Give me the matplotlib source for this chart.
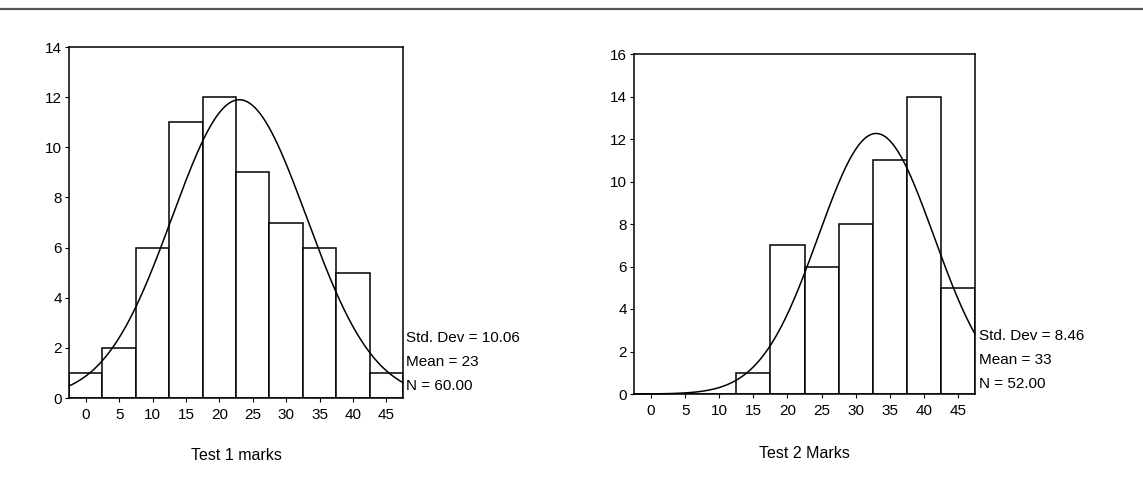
import numpy as np
import matplotlib
matplotlib.use("Agg")
import matplotlib.pyplot as plt
from matplotlib.lines import Line2D

plt.rcParams['font.family'] = ['Liberation Sans', 'DejaVu Sans']

# Histogram data: bin centres (width 5) and counts per bin
bin_centers = [0, 5, 10, 15, 20, 25, 30, 35, 40, 45]
test1_counts = [1, 2, 6, 11, 12, 9, 7, 6, 5, 1]
test2_counts = [0, 0, 0, 1, 7, 6, 8, 11, 14, 5]

test1_stats = {"sd": 10.06, "mean": 23, "n": 60.00}
test2_stats = {"sd": 8.46, "mean": 33, "n": 52.00}

test1_label = "Test 1 marks"
test2_label = "Test 2 Marks"
test1_ymax = 14
test2_ymax = 16

BIN_W = 5
W, H = 1143, 486
fig = plt.figure(figsize=(W / 100, H / 100), dpi=100)
fig.patch.set_facecolor("white")

# rule across the top of the page
fig.add_artist(Line2D([0, 1], [1 - 9 / H, 1 - 9 / H], transform=fig.transFigure,
                      color="#555555", lw=1.6))


def px_rect(x0, y0, x1, y1):
    return [x0 / W, 1 - y1 / H, (x1 - x0) / W, (y1 - y0) / H]


def histogram(ax, counts, stats, ymax, xlabel, label_y, stat_x, stat_y0):
    ax.bar(bin_centers, counts, width=BIN_W, color="white", edgecolor="black",
           linewidth=1.1, zorder=2)
    xs = np.linspace(-2.5, 47.5, 400)
    sd, mu, n = stats["sd"], stats["mean"], stats["n"]
    curve = n * BIN_W / (sd * np.sqrt(2 * np.pi)) * np.exp(-0.5 * ((xs - mu) / sd) ** 2)
    ax.plot(xs, curve, color="black", lw=1.1, zorder=3, clip_on=False)
    ax.set_xlim(-2.5, 47.5)
    ax.set_ylim(0, ymax)
    ax.set_xticks(bin_centers)
    ax.set_yticks(range(0, ymax + 1, 2))
    ax.tick_params(direction="out", length=3, width=0.8, labelsize=11, pad=2,
                   colors="black")
    ax.tick_params(axis="x", pad=4)
    for s in ax.spines.values():
        s.set_linewidth(1.1)
        s.set_color("black")
    lines = [f"Std. Dev = {sd:.2f}", f"Mean = {mu}", f"N = {n:.2f}"]
    for i, line in enumerate(lines):
        fig.text(stat_x / W, 1 - (stat_y0 + 24 * i) / H, line, ha="left",
                 va="center", fontsize=11)
    bb = ax.get_position()
    fig.text(bb.x0 + bb.width / 2, 1 - label_y / H, xlabel, ha="center",
             va="center", fontsize=11.5)


ax1 = fig.add_axes(px_rect(69, 47, 403, 398))
histogram(ax1, test1_counts, test1_stats, test1_ymax, test1_label, 456, 406, 338)

ax2 = fig.add_axes(px_rect(634, 54, 975, 394))
histogram(ax2, test2_counts, test2_stats, test2_ymax, test2_label, 453, 979, 336)

fig.savefig("out.png", dpi=100, facecolor="white")
